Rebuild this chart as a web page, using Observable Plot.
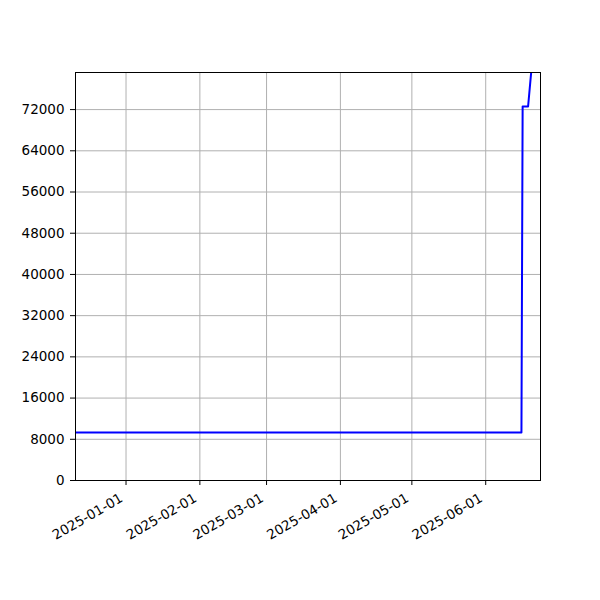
<!DOCTYPE html>
<html>
<head>
<meta charset="utf-8">
<script src="https://cdn.jsdelivr.net/npm/d3@7"></script>
<script src="https://cdn.jsdelivr.net/npm/@observablehq/plot@0.6"></script>
<style>
  html, body { margin: 0; padding: 0; background: #fff; }
  #chart svg { display: block; }
</style>
</head>
<body>
<div id="chart"></div>
<script>
// Data
const dates = ["2024-12-10", "2025-06-16", "2025-06-16T12:00", "2025-06-18T19:00", "2025-06-22"];
const values = [9300, 9300, 72600, 72600, 89000];

const yTicks = [0, 8000, 16000, 24000, 32000, 40000, 48000, 56000, 64000, 72000];
const xTickLabels = ["2025-01-01", "2025-02-01", "2025-03-01", "2025-04-01", "2025-05-01", "2025-06-01"];
const xDomain = ["2024-12-10T19:00", "2025-06-24T00:00"];
const yDomain = [0, 79200];

const data = dates.map((d, i) => ({date: new Date(d + (d.length === 10 ? "T00:00Z" : "Z")), value: values[i]}));
const xTicks = xTickLabels.map(s => new Date(s + "T00:00Z"));
const font = "DejaVu Sans, sans-serif";

const chart = Plot.plot({
  width: 600,
  height: 600,
  marginLeft: 75,
  marginRight: 60,
  marginTop: 72,
  marginBottom: 120,
  style: {fontFamily: font, fontSize: "13.5px", color: "black", background: "white"},
  x: {type: "utc", domain: xDomain.map(s => new Date(s + "Z"))},
  y: {domain: yDomain},
  marks: [
    Plot.gridX(xTicks, {stroke: "#b0b0b0", strokeOpacity: 1, strokeWidth: 1}),
    Plot.gridY(yTicks, {stroke: "#b0b0b0", strokeOpacity: 1, strokeWidth: 1}),
    Plot.line(data, {x: "date", y: "value", stroke: "#0000ff", strokeWidth: 2, clip: true}),
    Plot.frame({stroke: "black", strokeWidth: 1}),
    Plot.axisY(yTicks, {tickSize: 5, tickPadding: 6, label: null, tickFormat: d => String(d), stroke: "black", fill: "black", fontSize: 13.5}),
    Plot.axisX(xTicks, {tickSize: 5, text: null, label: null, stroke: "black"}),
    Plot.text(xTicks, {
      x: d => d,
      frameAnchor: "bottom",
      text: (d, i) => xTickLabels[i],
      rotate: -30,
      textAnchor: "end",
      lineAnchor: "top",
      dx: -7,
      dy: 12,
      fontSize: 13.5,
      fill: "black"
    })
  ]
});
document.getElementById("chart").appendChild(chart);
</script>
</body>
</html>
